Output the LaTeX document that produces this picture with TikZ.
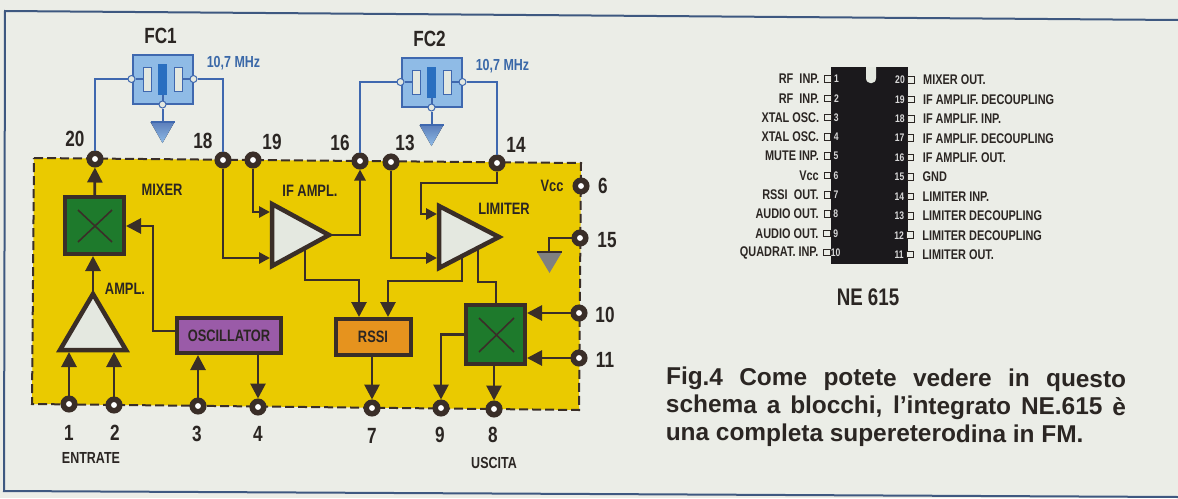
\documentclass[tikz,border=0pt]{standalone}
\usepackage{fontspec}
\setmainfont{Liberation Sans}
\newfontfamily\condfont[FakeStretch=0.78]{Liberation Sans}
\usetikzlibrary{arrows.meta,calc}
\newcommand{\fsz}[1]{\fontsize{#1}{#1}\selectfont}
\definecolor{paper}{HTML}{EBEDE7}
\definecolor{framecol}{HTML}{3E5880}
\definecolor{chipyellow}{HTML}{EACA00}
\definecolor{inkdark}{HTML}{3A2E28}
\definecolor{txtdark}{HTML}{2B2623}
\definecolor{mixgreen}{HTML}{1E7A2C}
\definecolor{oscpurple}{HTML}{9A5BA8}
\definecolor{rssiorange}{HTML}{E6931E}
\definecolor{ampwhite}{HTML}{E4E8E0}
\definecolor{fcblue}{HTML}{8FBBE6}
\definecolor{fcline}{HTML}{3F68AF}
\definecolor{fcbar}{HTML}{2A6FC0}
\definecolor{fctext}{HTML}{3A68A8}
\definecolor{icbody}{HTML}{1B191C}
\begin{document}
\begin{tikzpicture}[x=1pt,y=-1pt,
        term/.style={circle, draw=inkdark, line width=5.5pt, fill=white, minimum size=11.5pt, inner sep=0pt},
        wire/.style={draw=inkdark, line width=2.8pt},
        arr/.style={wire, -{Triangle[length=15pt,width=15pt]}},
        arrs/.style={wire, -{Triangle[length=11pt,width=11pt]}},
        block/.style={draw=inkdark, line width=4pt, inner sep=0pt},
        amp/.style={draw=inkdark, fill=ampwhite, line width=4.5pt, miter limit=10},
        cross/.style={draw=inkdark, line width=1.6pt},
        num/.style={font=\condfont\bfseries\fsz{22}, text=txtdark, inner sep=0pt},
        blocklab/.style={font=\condfont\bfseries\fsz{16.5}, text=txtdark, inner sep=0pt},
        iclab/.style={font=\condfont\bfseries\fsz{14}, text=txtdark, inner sep=0pt},
        icnum/.style={font=\condfont\bfseries\fsz{11}, text=black!15, inner sep=0pt},
        icpin/.style={draw=txtdark, fill=paper, line width=1pt, minimum size=6.5pt, inner sep=0pt},
        fcbox/.style={draw=fcline, fill=fcblue, line width=2pt, minimum width=60pt, minimum height=49pt, inner sep=0pt},
        fcplate/.style={draw=fcline, fill=ampwhite, line width=1pt, minimum width=8pt, minimum height=24pt, inner sep=0pt},
        fcstick/.style={fill=fcbar, minimum width=9pt, minimum height=31pt, inner sep=0pt},
        fcdot/.style={circle, draw=fcline, fill=ampwhite, line width=1pt, minimum size=7pt, inner sep=0pt},
        fcwire/.style={draw=fcline, line width=2pt},
        fclab/.style={font=\condfont\bfseries\fsz{16}, text=fctext, inner sep=0pt}]
    \useasboundingbox (0,0) rectangle (1178,498);
    \fill[paper] (0,0) rectangle (1178,498);
    \draw[framecol, line width=2pt] (1178,20) -- (5,11) -- (4,491) -- (1178,497);

    \fill[chipyellow] (34,158) -- (581,163) -- (579,410) -- (32,404) -- cycle;
    \draw[inkdark, line width=2pt, dash pattern=on 9pt off 4pt] (34,158) -- (581,163) -- (579,410) -- (32,404) -- cycle;

    \foreach \n/\x/\y/\lx/\ly in {1/69/404/69/433, 2/114/405/115/433, 3/198/406/197/434, 4/258/407/258/434,
            7/372/408/372/436, 9/441/408/440/435, 8/494/409/493/435, 10/579/313/605/315, 11/579/358/605/360,
            15/580/238/607/240, 6/581/186/603/186, 14/497/163/516/145, 13/391/162/405/143, 16/360/161/340/143,
            19/253/160/272/142, 18/223/160/203/141, 20/95/159/75/139}{
        \node[term] (t\n) at (\x,\y) {};
        \node[num] (n\n) at (\lx,\ly) {\n};}

    \node[block, fill=mixgreen, minimum width=59pt, minimum height=57pt] (mix1) at (94.5,225.5) {};
    \node[block, fill=mixgreen, minimum width=59pt, minimum height=59pt] (mix2) at (495.5,334.5) {};
    \node[block, fill=oscpurple, minimum width=104pt, minimum height=35pt] (osc) at (229,335.5) {};
    \node[block, fill=rssiorange, minimum width=75pt, minimum height=36pt] (rssi) at (373.5,337) {};
    \draw[cross] (78,210) -- (112,242) (78,242) -- (112,210);
    \draw[cross] (479,318) -- (514,352) (479,352) -- (514,318);
    \node[blocklab] (lbosc) at (229,336) {OSCILLATOR};
    \node[blocklab] (lbrssi) at (373,337) {RSSI};

    \draw[amp] (60,350) -- (93,294) -- (126,350) -- cycle;
    \draw[amp] (272,204) -- (329,235) -- (272,266) -- cycle;
    \draw[amp] (439,206) -- (499,237) -- (439,268) -- cycle;

    \node[blocklab] (lbmix) at (162,190) {MIXER};
    \node[blocklab] (lbif) at (310,191) {IF AMPL.};
    \node[blocklab] (lblim) at (504,209) {LIMITER};
    \node[blocklab] (lbvcc) at (552,186) {Vcc};
    \node[blocklab] (lbamp) at (125,289) {AMPL.};
    \node[blocklab, font=\condfont\bfseries\fsz{16}] (lbent) at (91,458) {ENTRATE};
    \node[blocklab, font=\condfont\bfseries\fsz{16}] (lbusc) at (494,463) {USCITA};

    \coordinate (ampin1) at (69,352);
    \coordinate (ampin2) at (114,352);
    \coordinate (amptop) at (93,291);
    \coordinate (oscout) at (175,331);
    \coordinate (oscbend) at (153,226);
    \coordinate (ifin1) at (270,212);
    \coordinate (ifin2) at (270,258);
    \coordinate (ifout) at (331,235);
    \coordinate (iflow) at (305,249);
    \coordinate (ifbend) at (359,280);
    \coordinate (limin1) at (437,214);
    \coordinate (limin2) at (437,258);
    \coordinate (limbend) at (421,183);
    \coordinate (limlow1) at (462,256);
    \coordinate (limlow2) at (478,248);
    \coordinate (rssibend) at (388,281);
    \coordinate (mix2bend) at (496,282);
    \coordinate (gndtop) at (549,252);

    \draw[arr] (mix1) -- (t20);
    \draw[arr] (amptop) -- (mix1.south -| amptop);
    \draw[arr] (t1) -- (ampin1);
    \draw[arr] (t2) -- (ampin2);
    \draw[arr] (t3) -- (osc.south -| t3);
    \draw[arr] (osc.south -| t4) -- (t4);
    \draw[arr] (oscout) -| (oscbend) -- (mix1.east |- oscbend);
    \draw[arrs] (t19) |- (ifin1);
    \draw[arrs] (t18) |- (ifin2);
    \draw[arrs] (ifout) -| (t16);
    \draw[arr] (iflow) |- (ifbend) -- (rssi.north -| ifbend);
    \draw[arrs] (t13) |- (limin2);
    \draw[arrs] (t14) |- (limbend) |- (limin1);
    \draw[arr] (limlow1) |- (rssibend) -- (rssi.north -| rssibend);
    \draw[wire] (limlow2) |- (mix2bend) -- (mix2.north -| mix2bend);
    \draw[arr] (t10) -- (mix2.east |- t10);
    \draw[arr] (t11) -- (mix2.east |- t11);
    \draw[arr] (mix2.west) -| (t9);
    \draw[arr] (mix2.south -| t8) -- (t8);
    \draw[arr] (rssi.south -| t7) -- (t7);
    \draw[wire] (t15) -| (gndtop);
    \fill[black!50] (537,252) -- (562,252) -- (549.5,273) -- cycle;
    \draw[inkdark, line width=2pt] (537,252) -- (562,252);

    \foreach \n/\x/\y/\a/\b in {1/162.5/79/t20/t18, 2/431.5/82/t16/t14}{
        \node[fcbox] (fc\n) at (\x,\y) {};
        \node[fcplate] (fc\n p) at ($(fc\n)+(-15.5,0)$) {};
        \node[fcplate] (fc\n q) at ($(fc\n)+(15.5,0)$) {};
        \node[fcstick] (fc\n s) at (fc\n) {};
        \node[fcdot] (fc\n a) at (fc\n.west) {};
        \node[fcdot] (fc\n b) at (fc\n.east) {};
        \node[fcdot] (fc\n c) at (fc\n.south) {};
        \coordinate (fc\n g) at ($(fc\n)+(0,43)$);
        \draw[fcwire] (fc\n a) -| (\a);
        \draw[fcwire] (fc\n b) -| (\b);
        \draw[fcwire] (fc\n a) -- (fc\n p);
        \draw[fcwire] (fc\n q) -- (fc\n b);
        \draw[fcwire] (fc\n s) -- (fc\n c);
        \draw[fcwire] (fc\n c) -- (fc\n g);
        \fill[top color=fcline!85, bottom color=fcblue] ($(fc\n g)+(-12,0)$) -- ($(fc\n g)+(12,0)$) -- ($(fc\n g)+(0,21)$) -- cycle;
        \draw[fcwire] ($(fc\n g)+(-12,0)$) -- ($(fc\n g)+(12,0)$);
        \node[num] (fcn\n) at ($(fc\n)+(-2,-43)$) {FC\n};
        \node[fclab] (fcf\n) at ($(fc\n)+(71,-16)$) {10,7 MHz};}

    \node[fill=icbody, minimum width=77pt, minimum height=197pt, inner sep=0pt] (ic) at (869,165.5) {};
    \fill[ampwhite] (866,67) -- (866,78) .. controls (866,85) and (876,85) .. (876,78) -- (876,67) -- cycle;
    \foreach \i/\txt in {1/RF\ \ INP., 2/RF\ \ INP., 3/XTAL OSC., 4/XTAL OSC., 5/MUTE INP., 6/Vcc,
            7/RSSI\ \ OUT., 8/AUDIO OUT., 9/AUDIO OUT., 10/QUADRAT. INP.}{
        \node[icpin] (pl\i) at ({828-(\i-1)*.1},{79+(\i-1)*19.3}) {};
        \node[icnum] (pln\i) at ($(pl\i)+(8.5,0)$) {\i};
        \node[iclab, anchor=east] (pll\i) at ($(pl\i)+(-8.5,0)$) {\txt};}
    \foreach \i/\txt in {20/MIXER OUT., 19/IF AMPLIF. DECOUPLING, 18/IF AMPLIF. INP., 17/IF AMPLIF. DECOUPLING,
            16/IF AMPLIF. OUT., 15/GND, 14/LIMITER INP., 13/LIMITER DECOUPLING, 12/LIMITER DECOUPLING, 11/LIMITER OUT.}{
        \node[icpin] (pr\i) at ({911-(20-\i)*.1},{80+(20-\i)*19.4}) {};
        \node[icnum] (prn\i) at ($(pr\i)+(-11,0)$) {\i};
        \node[iclab, anchor=west] (prl\i) at ($(pr\i)+(12,0)$) {\txt};}
    \node[num, font=\condfont\bfseries\fsz{24}] (icname) at (868,297) {NE 615};

    \node[anchor=north west, inner sep=0pt, text width=460pt, align=justify, rotate=-.3, text=txtdark,
        font=\bfseries\fontsize{24.4}{27.8}\selectfont] (caption) at (666,367)
        {Fig.4 Come potete vedere in questo\linebreak schema a blocchi, l’integrato NE.615 è\linebreak una completa supereterodina in FM.};
\end{tikzpicture}
\end{document}
